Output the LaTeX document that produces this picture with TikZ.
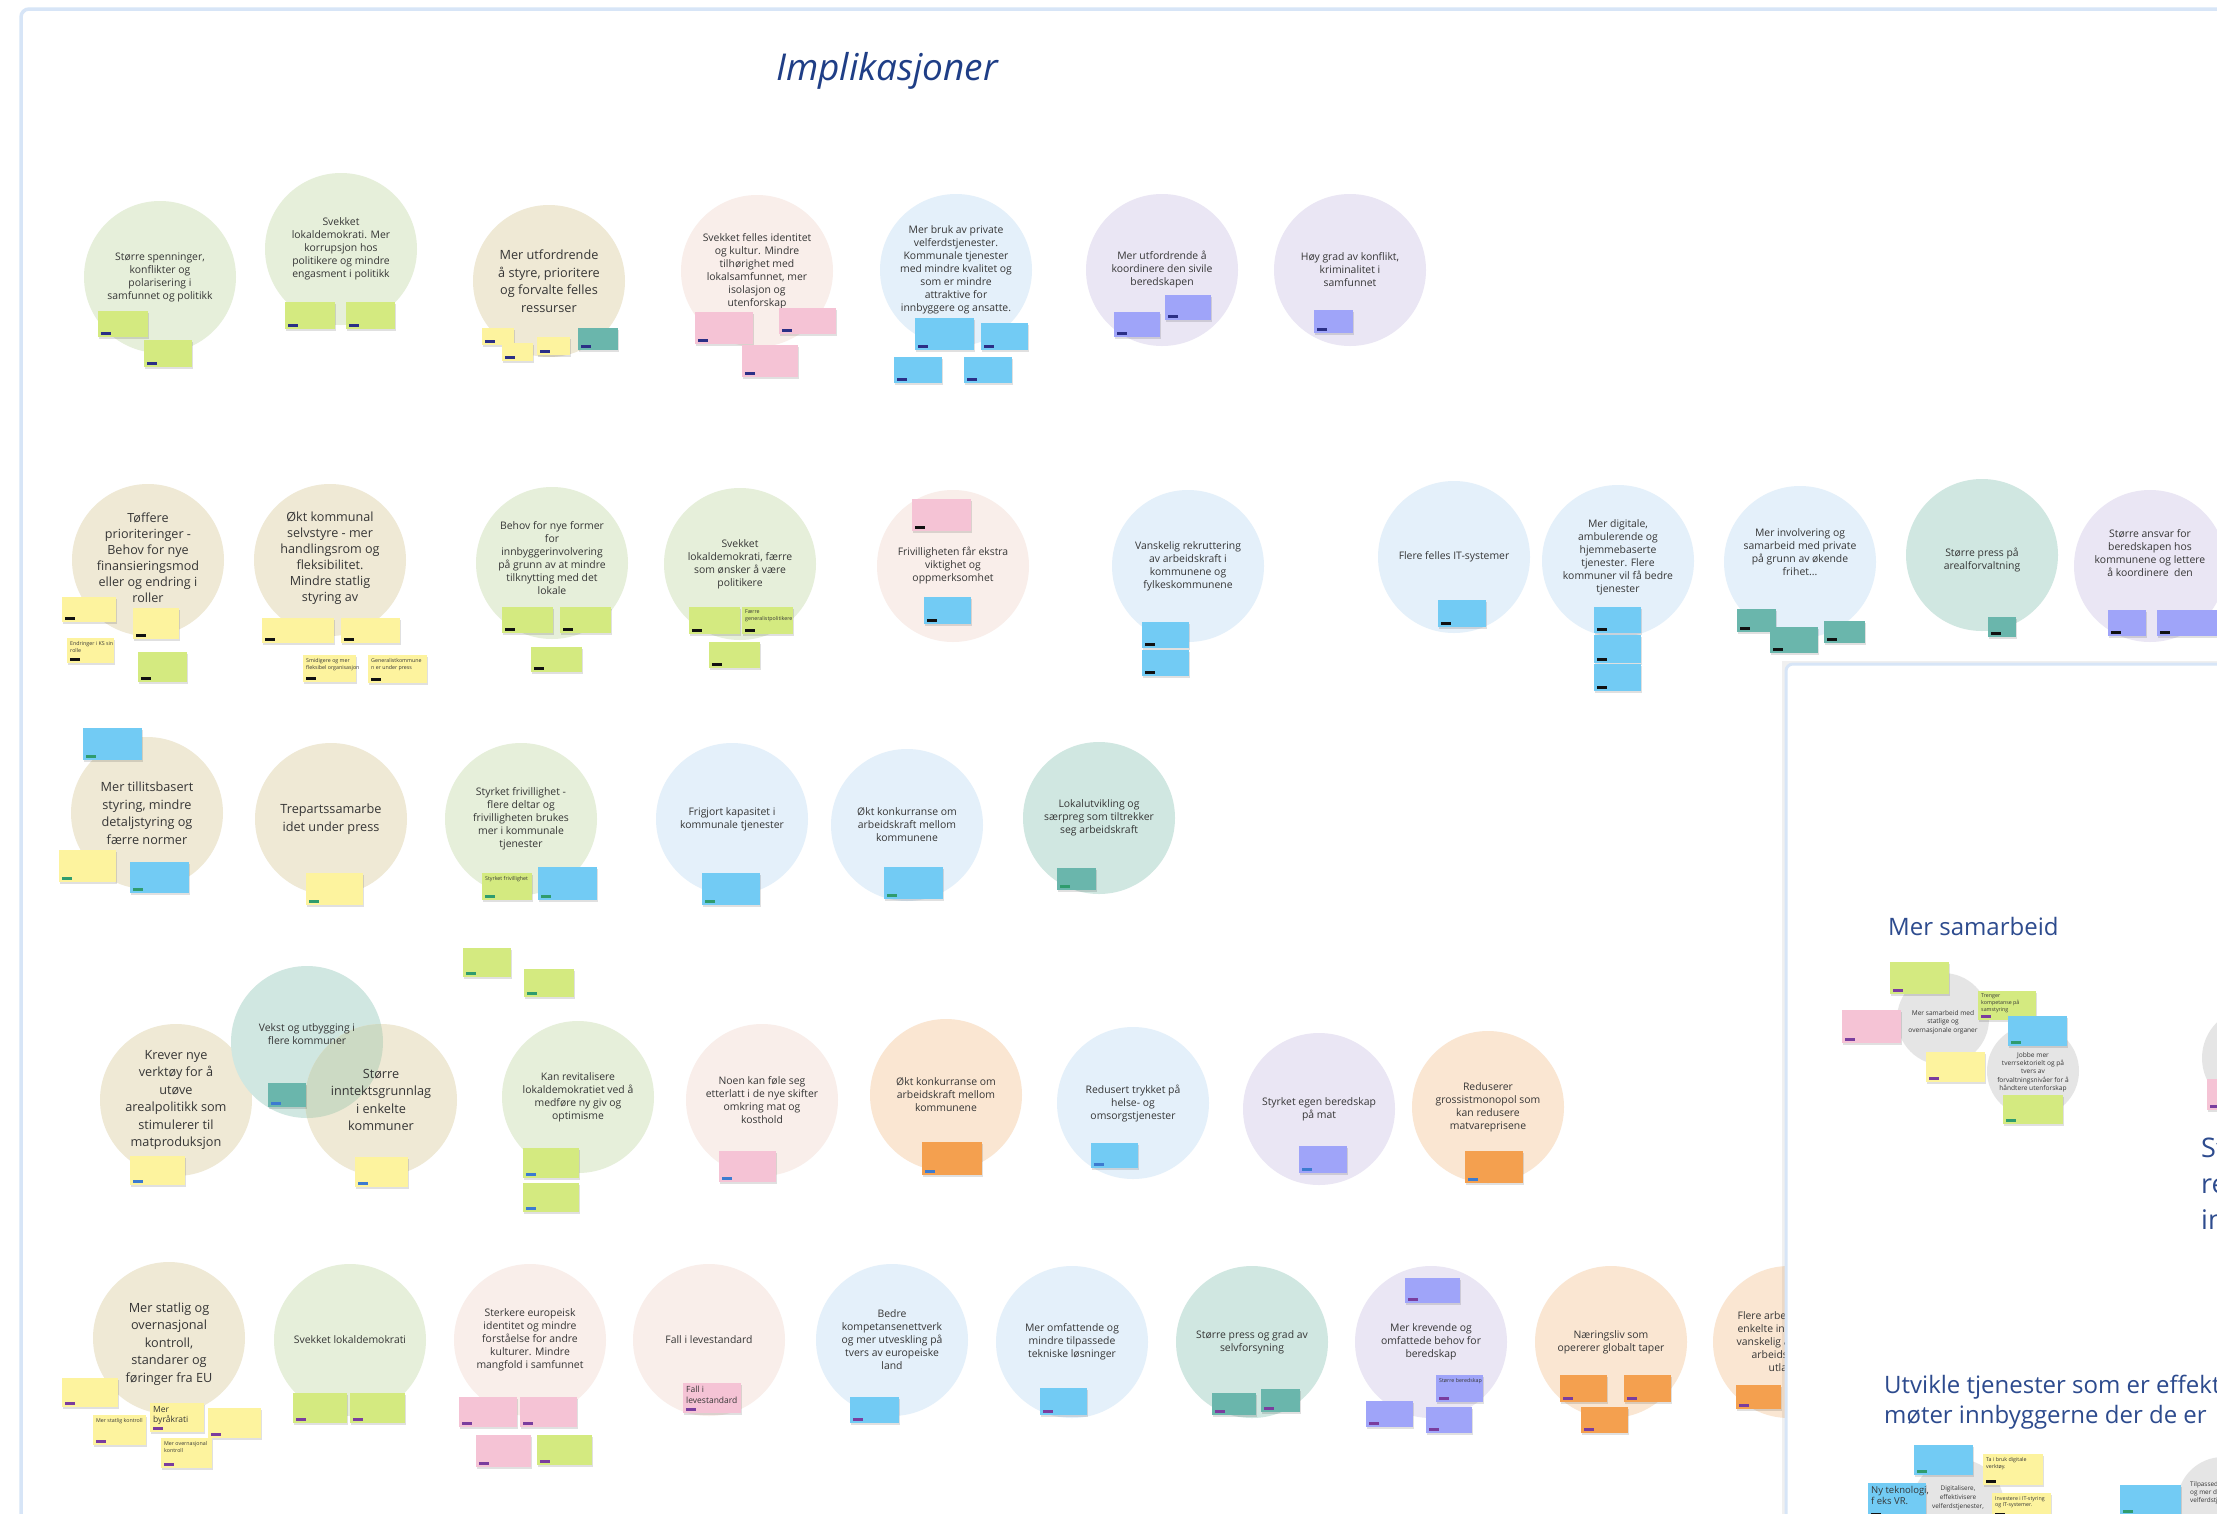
\documentclass[tikz,border=0pt]{standalone}
\usepackage{fontspec}
\setmainfont{Open Sans}
\definecolor{cgreen}{HTML}{E6EFDA}
\definecolor{ckhaki}{HTML}{EFE9D5}
\definecolor{cpink}{HTML}{F9EEEA}
\definecolor{cblue}{HTML}{E4F0FA}
\definecolor{clav}{HTML}{EAE6F4}
\definecolor{cteal}{HTML}{D0E7E1}
\definecolor{cpeach}{HTML}{FAE6D2}
\definecolor{coverlap}{HTML}{CCDAC4}
\definecolor{cgray}{HTML}{E5E5E5}
\definecolor{sy}{HTML}{FDF39E}
\definecolor{sg}{HTML}{D4EA80}
\definecolor{sp}{HTML}{F5C3D5}
\definecolor{sb}{HTML}{72CBF4}
\definecolor{sv}{HTML}{9FA4F9}
\definecolor{st}{HTML}{6AB6AC}
\definecolor{so}{HTML}{F4A04F}
\definecolor{bnavy}{HTML}{2B2F86}
\definecolor{bblack}{HTML}{111111}
\definecolor{bgreen}{HTML}{2F9C6E}
\definecolor{bblue}{HTML}{3C7BD0}
\definecolor{bpurple}{HTML}{7A3D9E}
\definecolor{ctxt}{HTML}{363636}
\definecolor{ctitle}{HTML}{1F3E86}
\definecolor{chead}{HTML}{2D4B8E}
\definecolor{cframe}{HTML}{D7E5F7}
\tikzset{
  bub/.style={circle,minimum size=152pt,inner sep=0pt,draw=none},
  gc/.style={circle,minimum size=92pt,inner sep=0pt,draw=none,fill=cgray},
  tsm/.style={align=center,inner sep=0pt,text=ctxt,font=\fontsize{10.4}{13}\selectfont},
  tlg/.style={align=center,inner sep=0pt,text=ctxt,font=\fontsize{12.7}{17.5}\selectfont},
  tlgt/.style={align=center,inner sep=0pt,text=ctxt,font=\fontsize{12.6}{16}\selectfont},
  tg/.style={align=center,inner sep=0pt,text=ctxt,font=\fontsize{6.6}{8.3}\selectfont},
  stk/.style={rectangle,inner sep=0pt,anchor=north west,draw=none},
  sf/.style={anchor=north west,align=left,inner sep=0pt,text=ctxt,font=\fontsize{5.3}{6.8}\selectfont},
  sfm/.style={sf,font=\fontsize{6.8}{8.3}\selectfont},
  sfl/.style={sf,font=\fontsize{8.5}{10.5}\selectfont},
  sfx/.style={sf,font=\fontsize{9.5}{11.5}\selectfont},
  head/.style={anchor=west,inner sep=0pt,text=chead,font=\fontsize{24}{29}\selectfont},
  framest/.style={draw=cframe,line width=3.5pt,rounded corners=8pt}
}
\newcommand\bubble[7][0]{%
  \node[bub,fill=#5] (#2) at (#3,#4) {};
  \node[#6] (#2t) at ([yshift=#1pt]#2.center) {#7};}
\newcommand\stk[9]{%
  \fill[black,opacity=0.12] (#2+1,#3+1.5) rectangle ++(#4,#5);
  \node[stk,fill=#6,minimum width=#4pt,minimum height=#5pt] (#1) at (#2,#3) {};
  \fill[#7] ([xshift=2.5pt,yshift=2.5pt]#1.south west) rectangle ++(10pt,2.5pt);
  \node[#9] (#1x) at ([xshift=3pt,yshift=-3pt]#1.north west) {#8};}
\begin{document}
\begin{tikzpicture}[x=1pt,y=-1pt]
\useasboundingbox (0,0) rectangle (2217,1513);
\clip (0,0) rectangle (2217,1513);
\fill[white] (0,0) rectangle (2217,1513);
\draw[framest] (21,9) rectangle (2300,1600);
\node[font=\fontsize{37}{44}\selectfont\itshape,text=ctitle,inner sep=0pt] (title) at (887,71) {Implikasjoner};

% ---------------- Row 1
\bubble{c1}{160}{277}{cgreen}{tsm}{Større spenninger,\\konflikter og\\polarisering i\\samfunnet og politikk}
\bubble{c2}{341}{249}{cgreen}{tsm}{Svekket\\lokaldemokrati. Mer\\korrupsjon hos\\politikere og mindre\\engasment i politikk}
\bubble{c3}{549}{281}{ckhaki}{tlg}{Mer utfordrende\\å styre, prioritere\\og forvalte felles\\ressurser}
\bubble{c4}{757}{271}{cpink}{tsm}{Svekket felles identitet\\og kultur. Mindre\\tilhørighet med\\lokalsamfunnet, mer\\isolasjon og\\utenforskap}
\bubble{c5}{956}{270}{cblue}{tsm}{Mer bruk av private\\velferdstjenester.\\Kommunale tjenester\\med mindre kvalitet og\\som er mindre\\attraktive for\\innbyggere og ansatte.}
\bubble{c6}{1162}{270}{clav}{tsm}{Mer utfordrende å\\koordinere den sivile\\beredskapen}
\bubble{c7}{1350}{270}{clav}{tsm}{Høy grad av konflikt,\\kriminalitet i\\samfunnet}
\stk{s1a}{98}{311}{50}{26}{sg}{bnavy}{}{sf}
\stk{s1b}{144}{340}{48}{27}{sg}{bnavy}{}{sf}
\stk{s2a}{285}{302}{50}{27}{sg}{bnavy}{}{sf}
\stk{s2b}{346}{302}{49}{27}{sg}{bnavy}{}{sf}
\stk{s3a}{482}{328}{32}{17}{sy}{bnavy}{}{sf}
\stk{s3b}{502}{343}{31}{18}{sy}{bnavy}{}{sf}
\stk{s3c}{537}{337}{33}{18}{sy}{bnavy}{}{sf}
\stk{s3d}{578}{328}{40}{22}{st}{bnavy}{}{sf}
\stk{s4a}{695}{312}{58}{32}{sp}{bnavy}{}{sf}
\stk{s4b}{779}{308}{57}{26}{sp}{bnavy}{}{sf}
\stk{s4c}{742}{345}{56}{32}{sp}{bnavy}{}{sf}
\stk{s5a}{915}{318}{59}{32}{sb}{bnavy}{}{sf}
\stk{s5b}{981}{323}{47}{27}{sb}{bnavy}{}{sf}
\stk{s5c}{894}{357}{48}{26}{sb}{bnavy}{}{sf}
\stk{s5d}{964}{357}{48}{26}{sb}{bnavy}{}{sf}
\stk{s6a}{1114}{312}{46}{25}{sv}{bnavy}{}{sf}
\stk{s6b}{1165}{295}{46}{25}{sv}{bnavy}{}{sf}
\stk{s7a}{1314}{310}{39}{23}{sv}{bnavy}{}{sf}

% ---------------- Row 2
\bubble[2]{c8}{148}{560}{ckhaki}{tlgt}{Tøffere\\prioriteringer -\\Behov for nye\\finansieringsmod\\eller og endring i\\roller}
\bubble[2]{c9}{330}{560}{ckhaki}{tlgt}{Økt kommunal\\selvstyre - mer\\handlingsrom og\\fleksibilitet.\\Mindre statlig\\styring av}
\bubble[5]{c10}{552}{563}{cgreen}{tsm}{Behov for nye former\\for\\innbyggerinvolvering\\på grunn av at mindre\\tilknytting med det\\lokale}
\bubble{c11}{740}{564}{cgreen}{tsm}{Svekket\\lokaldemokrati, færre\\som ønsker å være\\politikere}
\bubble{c12}{953}{566}{cpink}{tsm}{Frivilligheten får ekstra\\viktighet og\\oppmerksomhet}
\bubble{c13}{1188}{566}{cblue}{tsm}{Vanskelig rekruttering\\av arbeidskraft i\\kommunene og\\fylkeskommunene}
\bubble{c14}{1454}{557}{cblue}{tsm}{Flere felles IT-systemer}
\bubble[4]{c15}{1618}{561}{cblue}{tsm}{Mer digitale,\\ambulerende og\\hjemmebaserte\\tjenester. Flere\\kommuner vil få bedre\\tjenester}
\bubble[10]{c16}{1800}{562}{cblue}{tsm}{Mer involvering og\\samarbeid med private\\på grunn av økende\\frihet...}
\bubble[-5]{c17}{1982}{555}{cteal}{tsm}{Større press på\\arealforvaltning}
\bubble[13]{c18}{2150}{566}{clav}{tsm}{Større ansvar for\\beredskapen hos\\kommunene og lettere\\å koordinere\ \ den}
\stk{s8a}{62}{597}{54}{25}{sy}{bblack}{}{sf}
\stk{s8b}{133}{608}{46}{31}{sy}{bblack}{}{sf}
\stk{s8c}{67}{638}{47}{25}{sy}{bblack}{Endringer i KS sin\\rolle}{sf}
\stk{s8d}{138}{652}{49}{30}{sg}{bblack}{}{sf}
\stk{s9a}{262}{618}{72}{25}{sy}{bblack}{}{sf}
\stk{s9b}{341}{618}{59}{25}{sy}{bblack}{}{sf}
\stk{s9c}{303}{655}{53}{27}{sy}{bblack}{Smidigere og mer\\fleksibel organisasjon}{sf}
\stk{s9d}{368}{655}{59}{28}{sy}{bblack}{Generalistkommune\\n er under press}{sf}
\stk{s10a}{502}{607}{51}{26}{sg}{bblack}{}{sf}
\stk{s10b}{560}{607}{51}{26}{sg}{bblack}{}{sf}
\stk{s10c}{531}{647}{51}{25}{sg}{bblack}{}{sf}
\stk{s11a}{689}{607}{51}{27}{sg}{bblack}{}{sf}
\stk{s11b}{742}{607}{51}{27}{sg}{bblack}{Færre\\generalistpolitikere}{sf}
\stk{s11c}{709}{642}{51}{26}{sg}{bblack}{}{sf}
\stk{s12a}{912}{499}{59}{32}{sp}{bblack}{}{sf}
\stk{s12b}{924}{597}{47}{27}{sb}{bblack}{}{sf}
\stk{s13a}{1142}{622}{47}{26}{sb}{bblack}{}{sf}
\stk{s13b}{1142}{650}{47}{26}{sb}{bblack}{}{sf}
\stk{s14a}{1438}{600}{48}{27}{sb}{bblack}{}{sf}
\stk{s15a}{1594}{607}{47}{26}{sb}{bblack}{}{sf}
\stk{s15b}{1594}{635}{47}{28}{sb}{bblack}{}{sf}
\stk{s15c}{1594}{664}{47}{27}{sb}{bblack}{}{sf}
\stk{s16a}{1737}{609}{39}{23}{st}{bblack}{}{sf}
\stk{s16b}{1770}{627}{48}{26}{st}{bblack}{}{sf}
\stk{s16c}{1824}{621}{41}{22}{st}{bblack}{}{sf}
\stk{s17a}{1988}{617}{28}{20}{st}{bblack}{}{sf}
\stk{s18a}{2108}{610}{38}{26}{sv}{bblack}{}{sf}
\stk{s18b}{2157}{610}{60}{26}{sv}{bblack}{}{sf}

% ---------------- Row 3
\bubble{c19}{147}{813}{ckhaki}{tlg}{Mer tillitsbasert\\styring, mindre\\detaljstyring og\\færre normer}
\bubble{c20}{331}{819}{ckhaki}{tlg}{Trepartssamarbe\\idet under press}
\bubble{c21}{521}{819}{cgreen}{tsm}{Styrket frivillighet -\\flere deltar og\\frivilligheten brukes\\mer i kommunale\\tjenester}
\bubble{c22}{732}{819}{cblue}{tsm}{Frigjort kapasitet i\\kommunale tjenester}
\bubble{c23}{907}{825}{cblue}{tsm}{Økt konkurranse om\\arbeidskraft mellom\\kommunene}
\bubble{c24}{1099}{818}{cteal}{tsm}{Lokalutvikling og\\særpreg som tiltrekker\\seg arbeidskraft}
\stk{s19a}{83}{728}{59}{32}{sb}{bgreen}{}{sf}
\stk{s19b}{59}{850}{57}{32}{sy}{bgreen}{}{sf}
\stk{s19c}{130}{862}{59}{31}{sb}{bgreen}{}{sf}
\stk{s20a}{306}{873}{57}{32}{sy}{bgreen}{}{sf}
\stk{s21a}{482}{873}{50}{27}{sg}{bgreen}{Styrket frivillighet}{sf}
\stk{s21b}{538}{867}{59}{33}{sb}{bgreen}{}{sf}
\stk{s22a}{702}{873}{58}{32}{sb}{bgreen}{}{sf}
\stk{s23a}{884}{867}{59}{32}{sb}{bgreen}{}{sf}
\stk{s24a}{1057}{868}{39}{22}{st}{bgreen}{}{sf}
\stk{sxa}{463}{948}{48}{29}{sg}{bgreen}{}{sf}
\stk{sxb}{524}{969}{50}{28}{sg}{bgreen}{}{sf}

% ---------------- Row 4
\bubble{c25}{176}{1100}{ckhaki}{tlg}{Krever nye\\verktøy for å\\utøve\\arealpolitikk som\\stimulerer til\\matproduksjon}
\node[bub,fill=cteal] (c26) at (307,1042) {};
\node[bub,fill=ckhaki] (c27) at (381,1100) {};
\begin{scope}
  \clip (c26.center) circle (76pt);
  \fill[coverlap] (c27.center) circle (76pt);
\end{scope}
\node[tsm] (c26t) at ([yshift=8pt]c26.center) {Vekst og utbygging i\\flere kommuner};
\node[tlg] (c27t) at (c27.center) {Større\\inntektsgrunnlag\\i enkelte\\kommuner};
\bubble{c28}{578}{1097}{cgreen}{tsm}{Kan revitalisere\\lokaldemokratiet ved å\\medføre ny giv og\\optimisme}
\bubble{c29}{762}{1100}{cpink}{tsm}{Noen kan føle seg\\etterlatt i de nye skifter\\omkring mat og\\kosthold}
\bubble{c30}{946}{1095}{cpeach}{tsm}{Økt konkurranse om\\arbeidskraft mellom\\kommunene}
\bubble{c31}{1133}{1103}{cblue}{tsm}{Redusert trykket på\\helse- og\\omsorgstjenester}
\bubble{c32}{1319}{1109}{clav}{tsm}{Styrket egen beredskap\\på mat}
\bubble{c33}{1488}{1107}{cpeach}{tsm}{Reduserer\\grossistmonopol som\\kan redusere\\matvareprisene}
\stk{s25a}{130}{1156}{55}{29}{sy}{bblue}{}{sf}
\stk{s26a}{268}{1083}{38}{24}{st}{bblue}{}{sf}
\stk{s27a}{355}{1157}{53}{30}{sy}{bblue}{}{sf}
\stk{s28a}{523}{1148}{56}{30}{sg}{bblue}{}{sf}
\stk{s28b}{523}{1183}{56}{29}{sg}{bblue}{}{sf}
\stk{s29a}{719}{1151}{57}{31}{sp}{bblue}{}{sf}
\stk{s30a}{922}{1142}{60}{33}{so}{bblue}{}{sf}
\stk{s31a}{1091}{1143}{47}{25}{sb}{bblue}{}{sf}
\stk{s32a}{1299}{1146}{48}{27}{sv}{bblue}{}{sf}
\stk{s33a}{1465}{1151}{58}{32}{so}{bblue}{}{sf}

% ---------------- Row 5
\bubble[-6]{c34}{169}{1338}{ckhaki}{tlg}{Mer statlig og\\overnasjonal\\kontroll,\\standarer og\\føringer fra EU}
\bubble{c35}{350}{1340}{cgreen}{tsm}{Svekket lokaldemokrati}
\bubble{c36}{530}{1340}{cpink}{tsm}{Sterkere europeisk\\identitet og mindre\\forståelse for andre\\kulturer. Mindre\\mangfold i samfunnet}
\bubble{c37}{709}{1340}{cpink}{tsm}{Fall i levestandard}
\bubble{c38}{892}{1340}{cblue}{tsm}{Bedre\\kompetansenettverk\\og mer utveskling på\\tvers av europeiske\\land}
\bubble{c39}{1072}{1342}{cblue}{tsm}{Mer omfattende og\\mindre tilpassede\\tekniske løsninger}
\bubble{c40}{1252}{1342}{cteal}{tsm}{Større press og grad av\\selvforsyning}
\bubble{c41}{1431}{1342}{clav}{tsm}{Mer krevende og\\omfattede behov for\\beredskap}
\bubble{c42}{1611}{1342}{cpeach}{tsm}{Næringsliv som\\opererer globalt taper}
\bubble{c43}{1789}{1342}{cpeach}{tsm}{Flere arbeidsplasser i\\enkelte industrier, og\\vanskelig å rekruttere\\arbeidskraft fra\\utlandet}
\stk{s34a}{62}{1378}{56}{29}{sy}{bpurple}{}{sf}
\stk{s34b}{93}{1415}{53}{30}{sy}{bpurple}{Mer statlig kontroll}{sf}
\stk{s34c}{150}{1403}{54}{29}{sy}{bpurple}{Mer\\byråkrati}{sfl}
\stk{s34d}{208}{1408}{53}{30}{sy}{bpurple}{}{sf}
\stk{s34e}{161}{1438}{51}{30}{sy}{bpurple}{Mer overnasjonal\\kontroll}{sf}
\stk{s35a}{293}{1393}{54}{30}{sg}{bpurple}{}{sf}
\stk{s35b}{350}{1393}{55}{30}{sg}{bpurple}{}{sf}
\stk{s36a}{459}{1397}{58}{30}{sp}{bpurple}{}{sf}
\stk{s36b}{520}{1397}{57}{30}{sp}{bpurple}{}{sf}
\stk{s36c}{476}{1435}{55}{32}{sp}{bpurple}{}{sf}
\stk{s36d}{537}{1435}{55}{30}{sg}{bpurple}{}{sf}
\stk{s37a}{683}{1383}{58}{30}{sp}{bpurple}{Fall i\\levestandard}{sfl}
\stk{s38a}{850}{1397}{49}{26}{sb}{bpurple}{}{sf}
\stk{s39a}{1040}{1388}{47}{27}{sb}{bpurple}{}{sf}
\stk{s40a}{1212}{1393}{44}{22}{st}{bpurple}{}{sf}
\stk{s40b}{1261}{1389}{39}{23}{st}{bpurple}{}{sf}
\stk{s41a}{1405}{1278}{55}{25}{sv}{bpurple}{}{sf}
\stk{s41b}{1436}{1375}{47}{27}{sv}{bpurple}{Større beredskap}{sf}
\stk{s41c}{1366}{1401}{47}{26}{sv}{bpurple}{}{sf}
\stk{s41d}{1426}{1407}{46}{26}{sv}{bpurple}{}{sf}
\stk{s42a}{1560}{1375}{47}{27}{so}{bpurple}{}{sf}
\stk{s42b}{1624}{1375}{47}{27}{so}{bpurple}{}{sf}
\stk{s42c}{1581}{1407}{47}{26}{so}{bpurple}{}{sf}
\stk{s43a}{1736}{1385}{45}{24}{so}{bpurple}{}{sf}

% ---------------- second panel
\fill[black,opacity=0.06] (1782,661) rectangle (2300,1600);
\filldraw[fill=white,draw=cframe,line width=3pt,rounded corners=7pt] (1786,664) rectangle (2300,1600);

\node[head] (h1) at (1888,926) {Mer samarbeid};
\node[gc] (g1) at (1943,1019) {};
\node[gc] (g2) at (2033,1071) {};
\node[tg] (g1t) at (1943,1022) {Mer samarbeid med\\statlige og\\overnasjonale organer};
\node[tg] (g2t) at (2033,1072) {Jobbe mer\\tverrsektorielt og på\\tvers av\\forvaltningsnivåer for å\\håndtere utenforskap};
\stk{m1}{1890}{962}{59}{32}{sg}{bpurple}{}{sf}
\stk{m2}{1842}{1010}{59}{33}{sp}{bpurple}{}{sf}
\stk{m3}{1978}{991}{58}{29}{sg}{bpurple}{Trenger\\kompetanse på\\samstyring}{sf}
\stk{m4}{2008}{1016}{59}{30}{sb}{bgreen}{}{sf}
\stk{m5}{1926}{1052}{59}{30}{sy}{bpurple}{}{sf}
\stk{m6}{2003}{1095}{60}{29}{sg}{bgreen}{}{sf}

\node[gc,minimum size=100pt] (g3) at (2252,1058) {};
\stk{m7}{2207}{1079}{40}{31}{sp}{bpurple}{}{sf}
\node[anchor=west,align=left,inner sep=0pt,text=chead,font=\fontsize{27}{36}\selectfont] (h4) at (2201,1184) {St\\re\\in};

\node[head] (h2) at (1884,1387) {Utvikle tjenester som er effektive og};
\node[head] (h3) at (1884,1417) {møter innbyggerne der de er};

\node[gc] (g4) at (1958,1505) {};
\node[gc] (g5) at (2223,1503) {};
\stk{u1}{1914}{1445}{59}{30}{sb}{bgreen}{}{sf}
\stk{u2}{1983}{1454}{60}{31}{sy}{bblack}{Ta i bruk digitale\\verktøy.}{sf}
\node[tg,font=\fontsize{6.4}{8.8}\selectfont] (g4t) at (1958,1498) {Digitalisere,\\effektivisere\\velferdstjenester,};
\stk{u3}{1868}{1483}{58}{35}{sb}{bblack}{Ny teknologi,\\f eks VR.}{sfx}
\stk{u4}{1992}{1493}{59}{25}{sy}{bblack}{Investere i IT-styring\\og IT-systemer.}{sf}
\stk{u5}{2120}{1485}{61}{30}{sb}{bgreen}{}{sf}
\node[anchor=north west,align=left,inner sep=0pt,text=ctxt,font=\fontsize{6.4}{8}\selectfont] (g5t) at (2190,1481) {Tilpassede\\og mer de\\velferdstje};
\end{tikzpicture}
\end{document}
